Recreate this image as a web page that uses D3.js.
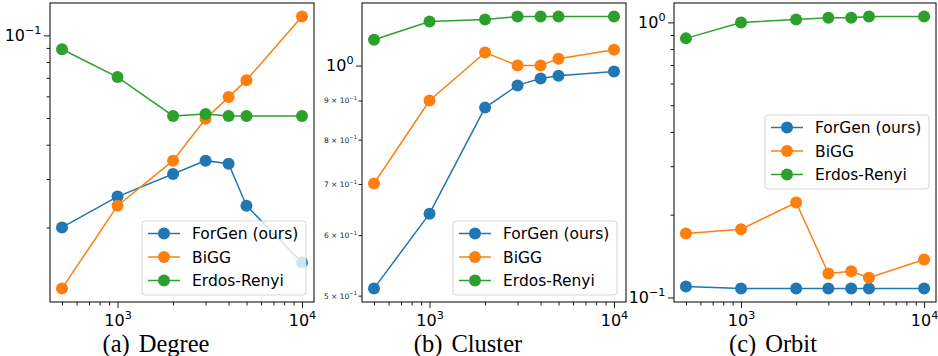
<!DOCTYPE html>
<html>
<head>
<meta charset="utf-8">
<script src="https://cdn.jsdelivr.net/npm/d3@7"></script>
<style>
  body { margin: 0; background: #fff; }
  svg { display: block; }
</style>
</head>
<body>
<svg id="chart" width="938" height="356"></svg>
<script>
// ─── Data ────────────────────────────────────────────────────────────
const sizes = [500, 1000, 2000, 3000, 4000, 5000, 10000];

const degreeForGen = [0.0200, 0.0259, 0.0313, 0.0350, 0.0341, 0.0240, 0.0149];
const degreeBiGG   = [0.0120, 0.0240, 0.0350, 0.0497, 0.0596, 0.0687, 0.117];
const degreeER     = [0.0890, 0.0705, 0.0509, 0.0517, 0.0509, 0.0509, 0.0509];

const clusterForGen = [0.511, 0.640, 0.881, 0.942, 0.962, 0.970, 0.982];
const clusterBiGG   = [0.701, 0.900, 1.040, 1.000, 1.000, 1.021, 1.049];
const clusterER     = [1.081, 1.142, 1.149, 1.159, 1.159, 1.159, 1.159];

const orbitForGen = [0.1096, 0.1079, 0.1079, 0.1079, 0.1079, 0.1079, 0.1079];
const orbitBiGG   = [0.171, 0.177, 0.2215, 0.1223, 0.1245, 0.118, 0.1375];
const orbitER     = [0.875, 1.000, 1.025, 1.040, 1.040, 1.050, 1.050];

const seriesNames = ["ForGen (ours)", "BiGG", "Erdos-Renyi"];
const seriesColors = ["#1f77b4", "#ff7f0e", "#2ca02c"];
const captions = ["(a)", "(b)", "(c)"];
const captionWords = ["Degree", "Cluster", "Orbit"];

// tick labels: base "10" with exponent
const xMajorExps = [3, 4];
const yMajorExps = [[-1], [0], [0, -1]];
const yMinorLabelDigits = [[], [5, 6, 7, 8, 9], []];

// ─── Layout ──────────────────────────────────────────────────────────
const plotTop = 3, plotBottom = 302;
const panels = [
  { left: 50,  right: 314, data: [degreeForGen, degreeBiGG, degreeER],    legend: [142, 221], capX: 156 },
  { left: 362, right: 626, data: [clusterForGen, clusterBiGG, clusterER], legend: [453, 221], capX: 468 },
  { left: 674, right: 936, data: [orbitForGen, orbitBiGG, orbitER],       legend: [765, 115], capX: 773 },
];

const tickFont = "'DejaVu Sans', sans-serif";
const svg = d3.select("#chart");

function logPad(vals) {
  const lo = Math.log10(d3.min(vals)), hi = Math.log10(d3.max(vals));
  const m = (hi - lo) * 0.05;
  return [Math.pow(10, lo - m), Math.pow(10, hi + m)];
}

function minorTicks(domain) {
  const out = [];
  for (let e = Math.floor(Math.log10(domain[0])); e <= Math.ceil(Math.log10(domain[1])); e++) {
    for (let k = 2; k <= 9; k++) {
      const v = k * Math.pow(10, e);
      if (v >= domain[0] && v <= domain[1]) out.push(v);
    }
  }
  return out;
}

function powLabel(textSel, exp, size, prefix) {
  textSel.text(null);
  if (prefix) textSel.append("tspan").text(prefix);
  textSel.append("tspan").text("10");
  textSel.append("tspan")
    .attr("font-size", size * 0.7)
    .attr("dy", -size * 0.42)
    .text(String(exp).replace("-", "\u2212"));
}

panels.forEach((p, pi) => {
  const x = d3.scaleLog().domain(logPad(sizes)).range([p.left, p.right]);
  const y = d3.scaleLog().domain(logPad(p.data.flat())).range([plotBottom, plotTop]);
  const g = svg.append("g");

  // ─── X axis ──────────────────────────────────────────────
  const xMinor = minorTicks(x.domain());
  g.append("g").attr("transform", `translate(0,${plotBottom})`)
    .call(d3.axisBottom(x).tickValues(xMinor).tickSize(3.5).tickFormat(() => ""))
    .call((a) => a.select(".domain").remove());
  const xa = g.append("g").attr("transform", `translate(0,${plotBottom})`)
    .call(d3.axisBottom(x).tickValues(xMajorExps.map((e) => Math.pow(10, e))).tickSize(6).tickPadding(2.5))
    .call((a) => a.select(".domain").remove());
  xa.selectAll(".tick text").attr("font-family", tickFont).attr("font-size", 16).attr("fill", "#000")
    .attr("dy", "0.95em")
    .each(function (d) { powLabel(d3.select(this), Math.round(Math.log10(d)), 16); });

  // ─── Y axis ──────────────────────────────────────────────
  const yMajor = yMajorExps[pi].map((e) => Math.pow(10, e));
  const yMinor = minorTicks(y.domain());
  const ymi = g.append("g").attr("transform", `translate(${p.left},0)`)
    .call(d3.axisLeft(y).tickValues(yMinor).tickSize(3.5).tickPadding(1.5).tickFormat(() => ""))
    .call((a) => a.select(".domain").remove());
  const labelled = yMinorLabelDigits[pi];
  ymi.selectAll(".tick text").attr("font-family", tickFont).attr("font-size", 7.5).attr("fill", "#222")
    .each(function (d) {
      const e = Math.floor(Math.log10(d) + 1e-9);
      const k = Math.round(d / Math.pow(10, e));
      if (labelled.includes(k)) powLabel(d3.select(this), e, 7.5, `${k} \u00d7 `);
    });
  const yma = g.append("g").attr("transform", `translate(${p.left},0)`)
    .call(d3.axisLeft(y).tickValues(yMajor).tickSize(6).tickPadding(2.5))
    .call((a) => a.select(".domain").remove());
  yma.selectAll(".tick text").attr("font-family", tickFont).attr("font-size", 16).attr("fill", "#000")
    .each(function (d) { powLabel(d3.select(this), Math.round(Math.log10(d)), 16); });
  g.selectAll(".tick line").attr("stroke", "#000").attr("stroke-width", 0.9);

  // ─── Series ──────────────────────────────────────────────
  const line = d3.line().x((d) => x(d[0])).y((d) => y(d[1]));
  p.data.forEach((vals, si) => {
    const pts = sizes.map((s, i) => [s, vals[i]]);
    g.append("path").datum(pts)
      .attr("fill", "none").attr("stroke", seriesColors[si]).attr("stroke-width", 1.5)
      .attr("d", line);
    g.append("g").selectAll("circle").data(pts).join("circle")
      .attr("cx", (d) => x(d[0])).attr("cy", (d) => y(d[1])).attr("r", 6)
      .attr("fill", seriesColors[si]);
  });

  // ─── Frame ───────────────────────────────────────────────
  g.append("rect")
    .attr("x", p.left).attr("y", plotTop)
    .attr("width", p.right - p.left).attr("height", plotBottom - plotTop)
    .attr("fill", "none").attr("stroke", "#000").attr("stroke-width", 1);

  // ─── Legend ──────────────────────────────────────────────
  const [lx, ly] = p.legend;
  const lg = g.append("g").attr("transform", `translate(${lx},${ly})`);
  lg.append("rect").attr("width", 164).attr("height", 74).attr("rx", 3)
    .attr("fill", "#fff").attr("fill-opacity", 0.8)
    .attr("stroke", "#ccc").attr("stroke-opacity", 0.8).attr("stroke-width", 1);
  seriesNames.forEach((name, si) => {
    const ry = 12.5 + si * 23.5;
    lg.append("line").attr("x1", 6).attr("x2", 38).attr("y1", ry).attr("y2", ry)
      .attr("stroke", seriesColors[si]).attr("stroke-width", 1.5);
    lg.append("circle").attr("cx", 22).attr("cy", ry).attr("r", 6).attr("fill", seriesColors[si]);
    lg.append("text").attr("x", 50).attr("y", ry).attr("dy", "0.36em")
      .attr("font-family", tickFont).attr("font-size", 15.5).attr("fill", "#000")
      .text(name);
  });

  // ─── Caption ─────────────────────────────────────────────
  const cap = svg.append("text").attr("x", p.capX).attr("y", 352)
    .attr("text-anchor", "middle")
    .attr("font-family", "'Liberation Serif', serif").attr("font-size", 24.5).attr("fill", "#000");
  cap.append("tspan").text(captions[pi]);
  cap.append("tspan").attr("dx", 9).text(captionWords[pi]);
});
</script>
</body>
</html>
